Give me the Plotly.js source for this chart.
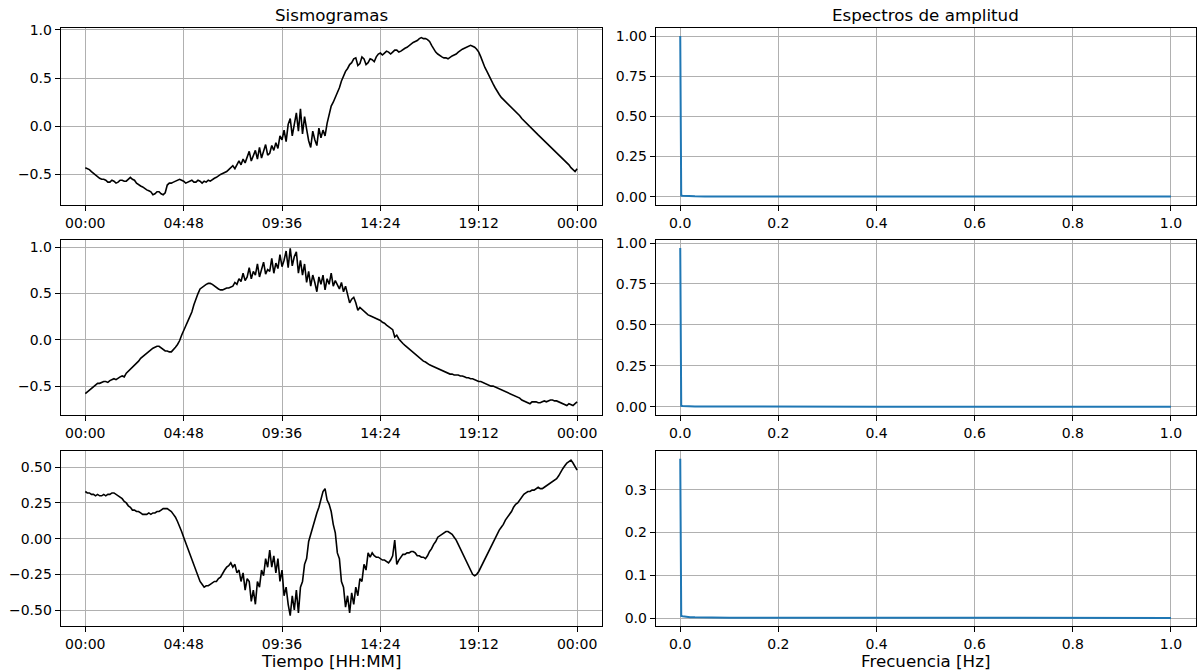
<!DOCTYPE html>
<html>
<head>
<meta charset="utf-8">
<script src="https://cdn.plot.ly/plotly-3.0.1.min.js"></script>
<style>html,body{margin:0;padding:0;background:#fff}#chart{width:1197px;height:671px}</style>
</head>
<body>
<div id="chart"></div>
<script>
// Sampling of the seismograms: one sample every 0.1 h (6 min), 00:00 -> 24:00
const sampleStepHours = 0.1;

// Sismograma 1 (top), one row per hour
const sismo1 = [
  -0.43,-0.44,-0.45,-0.47,-0.49,-0.50,-0.52,-0.54,-0.55,-0.55,
  -0.56,-0.58,-0.58,-0.56,-0.57,-0.59,-0.58,-0.56,-0.56,-0.57,
  -0.57,-0.55,-0.53,-0.55,-0.56,-0.59,-0.61,-0.62,-0.63,-0.65,
  -0.66,-0.67,-0.68,-0.71,-0.70,-0.68,-0.68,-0.70,-0.71,-0.69,
  -0.61,-0.59,-0.59,-0.58,-0.57,-0.56,-0.55,-0.56,-0.57,-0.59,
  -0.58,-0.57,-0.56,-0.58,-0.58,-0.56,-0.57,-0.59,-0.57,-0.58,
  -0.56,-0.57,-0.55,-0.54,-0.53,-0.51,-0.50,-0.49,-0.48,-0.47,
  -0.45,-0.43,-0.41,-0.44,-0.40,-0.36,-0.40,-0.34,-0.38,-0.31,
  -0.26,-0.36,-0.30,-0.25,-0.34,-0.22,-0.33,-0.26,-0.19,-0.30,
  -0.28,-0.20,-0.25,-0.17,-0.23,-0.10,-0.14,-0.04,-0.16, 0.02,
   0.08,-0.10, 0.02, 0.14,-0.05, 0.18,-0.08, 0.10,-0.03,-0.15,
  -0.22,-0.05,-0.14,-0.20,-0.02,-0.12,-0.04,-0.10, 0.03, 0.14,
   0.21, 0.25, 0.30, 0.36, 0.40, 0.47, 0.52, 0.57, 0.60, 0.64,
   0.66, 0.70, 0.71, 0.63, 0.65, 0.72, 0.70, 0.64, 0.66, 0.70,
   0.69, 0.67, 0.72, 0.75, 0.76, 0.74, 0.76, 0.78, 0.77, 0.75,
   0.77, 0.79, 0.79, 0.77, 0.78, 0.80, 0.81, 0.82, 0.84, 0.86,
   0.87, 0.88, 0.89, 0.91, 0.92, 0.91, 0.91, 0.90, 0.88, 0.84,
   0.80, 0.77, 0.75, 0.73, 0.72, 0.71, 0.71, 0.70, 0.72, 0.73,
   0.74, 0.75, 0.77, 0.79, 0.80, 0.81, 0.82, 0.83, 0.84, 0.83,
   0.82, 0.80, 0.77, 0.72, 0.66, 0.61, 0.57, 0.52, 0.48, 0.44,
   0.40, 0.36, 0.33, 0.30, 0.28, 0.26, 0.24, 0.22, 0.20, 0.18,
   0.16, 0.13, 0.11, 0.08, 0.06, 0.03, 0.01,-0.01,-0.03,-0.05,
  -0.07,-0.09,-0.11,-0.13,-0.15,-0.17,-0.19,-0.22,-0.24,-0.26,
  -0.28,-0.30,-0.32,-0.34,-0.36,-0.38,-0.40,-0.43,-0.45,-0.47,
  -0.44
];

// Sismograma 2 (middle)
const sismo2 = [
  -0.58,-0.56,-0.54,-0.52,-0.50,-0.48,-0.47,-0.47,-0.46,-0.45,
  -0.45,-0.46,-0.44,-0.43,-0.42,-0.43,-0.41,-0.40,-0.39,-0.40,
  -0.36,-0.34,-0.32,-0.29,-0.27,-0.25,-0.23,-0.20,-0.18,-0.16,
  -0.14,-0.12,-0.11,-0.09,-0.08,-0.07,-0.07,-0.09,-0.11,-0.12,
  -0.12,-0.13,-0.13,-0.11,-0.08,-0.05,-0.01, 0.05, 0.11, 0.15,
   0.20, 0.25, 0.30, 0.38, 0.45, 0.50, 0.55, 0.57, 0.59, 0.60,
   0.61, 0.61, 0.60, 0.58, 0.57, 0.55, 0.54, 0.54, 0.55, 0.56,
   0.56, 0.57, 0.58, 0.62, 0.60, 0.66, 0.63, 0.72, 0.64, 0.68,
   0.78, 0.66, 0.74, 0.70, 0.82, 0.68, 0.77, 0.84, 0.71, 0.76,
   0.74, 0.88, 0.72, 0.83, 0.77, 0.92, 0.79, 0.86, 0.96, 0.78,
   0.99, 0.80, 0.90, 0.95, 0.72, 0.86, 0.70, 0.82, 0.62, 0.74,
   0.58, 0.70, 0.62, 0.52, 0.68, 0.60, 0.70, 0.54, 0.66, 0.60,
   0.72, 0.58, 0.64, 0.60, 0.55, 0.62, 0.52, 0.58, 0.48, 0.40,
   0.44, 0.46, 0.40, 0.32, 0.35, 0.33, 0.30, 0.28, 0.27, 0.26,
   0.25, 0.24, 0.23, 0.22, 0.21, 0.19, 0.18, 0.16, 0.14, 0.12,
   0.11, 0.03, 0.05, 0.01,-0.02,-0.04,-0.06,-0.08,-0.10,-0.12,
  -0.14,-0.16,-0.18,-0.19,-0.21,-0.23,-0.24,-0.26,-0.27,-0.28,
  -0.29,-0.30,-0.31,-0.32,-0.33,-0.34,-0.35,-0.36,-0.37,-0.37,
  -0.38,-0.38,-0.38,-0.39,-0.39,-0.40,-0.41,-0.41,-0.42,-0.42,
  -0.43,-0.44,-0.45,-0.45,-0.46,-0.47,-0.48,-0.49,-0.50,-0.50,
  -0.51,-0.52,-0.53,-0.54,-0.55,-0.56,-0.57,-0.58,-0.59,-0.60,
  -0.61,-0.62,-0.63,-0.65,-0.66,-0.67,-0.68,-0.69,-0.67,-0.67,
  -0.67,-0.68,-0.68,-0.67,-0.66,-0.67,-0.66,-0.65,-0.65,-0.66,
  -0.66,-0.67,-0.68,-0.69,-0.70,-0.71,-0.69,-0.70,-0.71,-0.69,
  -0.67
];

// Sismograma 3 (bottom)
const sismo3 = [
   0.33, 0.32, 0.32, 0.31, 0.31, 0.30, 0.31, 0.30, 0.30, 0.31,
   0.30, 0.31, 0.31, 0.32, 0.32, 0.31, 0.30, 0.29, 0.28, 0.26,
   0.25, 0.23, 0.22, 0.20, 0.20, 0.19, 0.19, 0.18, 0.17, 0.17,
   0.17, 0.18, 0.17, 0.18, 0.18, 0.19, 0.19, 0.20, 0.21, 0.21,
   0.21, 0.20, 0.19, 0.17, 0.15, 0.12, 0.09, 0.05, 0.01,-0.03,
  -0.07,-0.11,-0.15,-0.19,-0.23,-0.27,-0.30,-0.32,-0.34,-0.33,
  -0.33,-0.32,-0.31,-0.30,-0.30,-0.28,-0.27,-0.24,-0.22,-0.20,
  -0.19,-0.17,-0.20,-0.18,-0.24,-0.22,-0.30,-0.24,-0.36,-0.28,
  -0.30,-0.44,-0.36,-0.46,-0.30,-0.34,-0.22,-0.26,-0.14,-0.20,
  -0.08,-0.20,-0.12,-0.24,-0.14,-0.30,-0.22,-0.40,-0.34,-0.46,
  -0.54,-0.40,-0.50,-0.36,-0.52,-0.34,-0.30,-0.18,-0.14,-0.02,
   0.03, 0.08, 0.14, 0.18, 0.22, 0.28, 0.33, 0.35, 0.27, 0.24,
   0.19, 0.10, 0.04,-0.10,-0.14,-0.30,-0.34,-0.48,-0.40,-0.52,
  -0.38,-0.46,-0.34,-0.40,-0.28,-0.30,-0.18,-0.22,-0.10,-0.13,
  -0.10,-0.12,-0.13,-0.13,-0.14,-0.15,-0.15,-0.16,-0.17,-0.15,
  -0.12,-0.01,-0.18,-0.15,-0.13,-0.11,-0.11,-0.10,-0.10,-0.09,
  -0.09,-0.10,-0.12,-0.12,-0.13,-0.13,-0.14,-0.12,-0.09,-0.07,
  -0.04,-0.02, 0.01, 0.02, 0.03, 0.04, 0.05, 0.05, 0.04, 0.03,
   0.01,-0.01,-0.04,-0.07,-0.10,-0.13,-0.17,-0.20,-0.23,-0.25,
  -0.26,-0.25,-0.23,-0.20,-0.17,-0.14,-0.11,-0.08,-0.06,-0.03,
   0.01, 0.03, 0.06, 0.08, 0.10, 0.13, 0.15, 0.17, 0.19, 0.22,
   0.24, 0.25, 0.27, 0.29, 0.31, 0.32, 0.33, 0.33, 0.34, 0.34,
   0.35, 0.36, 0.35, 0.35, 0.36, 0.37, 0.38, 0.39, 0.40, 0.41,
   0.42, 0.44, 0.47, 0.49, 0.51, 0.53, 0.54, 0.55, 0.53, 0.50,
   0.48
];

// Amplitude spectra
const frecuencias = [0, 0.0005, 0.002, 0.005, 0.01, 0.02, 0.03, 0.05, 0.1, 0.2, 0.4, 0.6, 0.8, 1.0];
const espectro1 = [1.0, 0.010, 0.006, 0.005, 0.004, 0.003, 0.002, 0.0015, 0.001, 0.0008, 0.0006, 0.0005, 0.0004, 0.0004];
const espectro2 = [0.97, 0.010, 0.006, 0.005, 0.004, 0.003, 0.002, 0.0015, 0.001, 0.0008, 0.0006, 0.0005, 0.0004, 0.0004];
const espectro3 = [0.373, 0.006, 0.005, 0.004, 0.003, 0.002, 0.0015, 0.001, 0.0008, 0.0006, 0.0005, 0.0004, 0.0003, 0.0003];

const timeTickVals = [0, 4.8, 9.6, 14.4, 19.2, 24];
const timeTickText = ['00:00', '04:48', '09:36', '14:24', '19:12', '00:00'];

const horas = sismo1.map((_, i) => +(i * sampleStepHours).toFixed(2));

const W = 1197, H = 671;
const px = v => v / W;
const py = v => 1 - v / H;

const leftDom = [px(60.7), px(601.7)];
const rightDom = [px(655.7), px(1195.5)];
const rows = [[py(204.7), py(28)], [py(414.7), py(240)], [py(626), py(450.7)]];

const fontFam = 'DejaVu Sans, sans-serif';
const axBase = {
  showline: true, mirror: true, linecolor: '#000', linewidth: 1,
  ticks: 'outside', ticklen: 5, tickwidth: 1, tickcolor: '#000',
  showgrid: true, gridcolor: '#b0b0b0', gridwidth: 1, zeroline: false,
  tickfont: {family: fontFam, size: 14, color: '#000'}
};

const traces = [];
const sismos = [sismo1, sismo2, sismo3];
const espectros = [espectro1, espectro2, espectro3];
const axId = n => (n === 1 ? '' : String(n));
for (let r = 0; r < 3; r++) {
  traces.push({x: horas, y: sismos[r], type: 'scatter', mode: 'lines',
    line: {color: '#000000', width: 1.6}, xaxis: 'x' + axId(2*r+1), yaxis: 'y' + axId(2*r+1), hoverinfo: 'skip'});
  traces.push({x: frecuencias, y: espectros[r], type: 'scatter', mode: 'lines',
    line: {color: '#1f77b4', width: 2}, xaxis: 'x' + (2*r+2), yaxis: 'y' + (2*r+2), hoverinfo: 'skip'});
}

const leftY = [
  {range: [-0.814, 1.02], tickvals: [-0.5, 0, 0.5, 1.0], tickformat: '.1f'},
  {range: [-0.809, 1.079], tickvals: [-0.5, 0, 0.5, 1.0], tickformat: '.1f'},
  {range: [-0.612, 0.616], tickvals: [-0.5, -0.25, 0, 0.25, 0.5], tickformat: '.2f'}
];
const rightY = [
  {range: [-0.05, 1.05], tickvals: [0, 0.25, 0.5, 0.75, 1.0], tickformat: '.2f'},
  {range: [-0.0485, 1.0185], tickvals: [0, 0.25, 0.5, 0.75, 1.0], tickformat: '.2f'},
  {range: [-0.0187, 0.3917], tickvals: [0, 0.1, 0.2, 0.3], tickformat: '.1f'}
];

const titleFont = {family: fontFam, size: 16.7, color: '#000'};
const layout = {
  width: W, height: H, margin: {l: 0, r: 0, t: 0, b: 0},
  paper_bgcolor: '#fff', plot_bgcolor: '#fff', showlegend: false,
  font: {family: fontFam, size: 14, color: '#000'},
  annotations: [
    {text: 'Sismogramas', x: (leftDom[0]+leftDom[1])/2, y: py(15), xref: 'paper', yref: 'paper', xanchor: 'center', yanchor: 'middle', showarrow: false, borderpad: 0, font: titleFont},
    {text: 'Espectros de amplitud', x: (rightDom[0]+rightDom[1])/2, y: py(15), xref: 'paper', yref: 'paper', xanchor: 'center', yanchor: 'middle', showarrow: false, borderpad: 0, font: titleFont},
    {text: 'Tiempo [HH:MM]', x: (leftDom[0]+leftDom[1])/2, y: py(661), xref: 'paper', yref: 'paper', xanchor: 'center', yanchor: 'middle', showarrow: false, borderpad: 0, font: titleFont},
    {text: 'Frecuencia [Hz]', x: (rightDom[0]+rightDom[1])/2, y: py(661), xref: 'paper', yref: 'paper', xanchor: 'center', yanchor: 'middle', showarrow: false, borderpad: 0, font: titleFont}
  ]
};

for (let r = 0; r < 3; r++) {
  const li = 2*r+1, ri = 2*r+2;
  layout['xaxis' + axId(li)] = Object.assign({}, axBase, {domain: leftDom, anchor: 'y' + axId(li), range: [-1.2, 25.2], tickvals: timeTickVals, ticktext: timeTickText});
  layout['yaxis' + axId(li)] = Object.assign({}, axBase, {domain: rows[r], anchor: 'x' + axId(li)}, leftY[r]);
  layout['xaxis' + ri] = Object.assign({}, axBase, {domain: rightDom, anchor: 'y' + ri, range: [-0.05, 1.05], tickvals: [0, 0.2, 0.4, 0.6, 0.8, 1.0], tickformat: '.1f'});
  layout['yaxis' + ri] = Object.assign({}, axBase, {domain: rows[r], anchor: 'x' + ri}, rightY[r]);
}

Plotly.newPlot('chart', traces, layout, {staticPlot: true, displayModeBar: false});
</script>
</body>
</html>
